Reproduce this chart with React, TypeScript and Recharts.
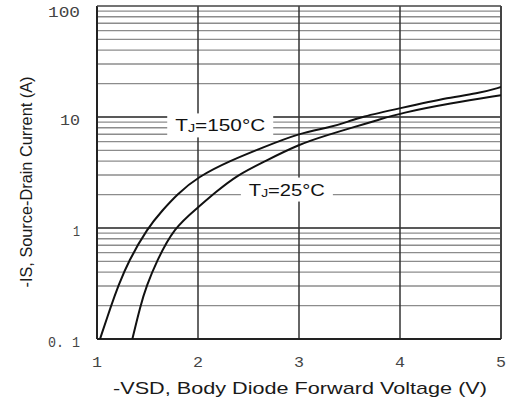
import React from 'react';
import { LineChart, Line, XAxis, YAxis, ReferenceLine, ReferenceDot } from 'recharts';

// -VSD (V) vs -IS (A)
const vsd150 = [1.03, 1.14, 1.21, 1.31, 1.5, 1.65, 1.79, 2.0, 2.32, 2.64, 3.0, 3.31, 3.5, 3.6, 4.0, 4.5, 4.79, 5.0];
const is150 = [0.1, 0.2, 0.3, 0.5, 1.0, 1.45, 2.0, 2.9, 4.05, 5.3, 7.15, 8.07, 9.15, 9.94, 12, 15.1, 16.4, 18.6];
const vsd25 = [1.35, 1.43, 1.49, 1.59, 1.76, 2.0, 2.17, 2.39, 2.64, 3.0, 3.31, 3.5, 3.8, 4.0, 4.5, 5.0];
const is25 = [0.1, 0.2, 0.3, 0.5, 1.0, 1.53, 2.09, 3.0, 3.9, 5.7, 7.0, 7.9, 9.5, 10.8, 13.3, 15.7];

const xTicks = [1, 2, 3, 4, 5];
const yTicks = [0.1, 1, 10, 100];
const yTickLabels = ['0. 1', '1', '10', '100'];
const minorY = [0.2, 0.3, 0.4, 0.5, 0.6, 0.7, 0.8, 0.9, 2, 3, 4, 5, 6, 7, 8, 9, 20, 30, 40, 50, 60, 70, 80, 90];
const majorY = [1, 10];
const majorX = [2, 3, 4];

const data150 = vsd150.map((v, i) => ({ v, is: is150[i] }));
const data25 = vsd25.map((v, i) => ({ v, is: is25[i] }));

const tickFont = '"Liberation Mono", monospace';
const labelFont = '"Liberation Sans", Arial, sans-serif';

const yLabelWidth: Record<string, number> = { '0. 1': 32, '1': 7, '10': 20, '100': 32 };

const YTick = (props: any) => {
  const { y, payload } = props;
  const label = yTickLabels[yTicks.indexOf(payload.value)] ?? String(payload.value);
  return (
    <text x={80} y={y + 8} textAnchor="end" fontFamily={tickFont} fontSize={14} fill="#444"
      textLength={yLabelWidth[label]} lengthAdjust="spacingAndGlyphs">
      {label}
    </text>
  );
};

const XTick = (props: any) => {
  const { x, payload } = props;
  return (
    <text x={x} y={367} textAnchor="middle" fontFamily={tickFont} fontSize={14} fill="#444"
      textLength={10} lengthAdjust="spacingAndGlyphs">
      {payload.value}
    </text>
  );
};

const CurveLabel = ({ cx, cy, temp, w }: any) => (
  <g>
    <rect x={cx - w / 2 - 8} y={cy - 12} width={w + 16} height={24} fill="#fff" />
    <text x={cx - w / 2} y={cy + 6} fontFamily={labelFont} fontSize={16} fill="#111"
      textLength={w} lengthAdjust="spacingAndGlyphs">
      <tspan>T</tspan>
      <tspan fontSize={11} dy={1}>J</tspan>
      <tspan dy={-1}>={temp}°C</tspan>
    </text>
  </g>
);

export default function App() {
  return (
    <div style={{ position: 'absolute', left: 0, top: 0, width: 511, height: 405, background: '#fff' }}>
      <LineChart width={511} height={405} margin={{ top: 6, right: 10, bottom: 0, left: 0 }}>
        <XAxis dataKey="v" type="number" domain={[1, 5]} ticks={xTicks} axisLine={false} tickLine={false}
          tick={<XTick />} height={66} allowDataOverflow />
        <YAxis type="number" scale="log" domain={[0.1, 100]} ticks={yTicks} axisLine={false} tickLine={false}
          tick={<YTick />} width={97} allowDataOverflow />
        {minorY.map((v) => (
          <ReferenceLine key={'m' + v} y={v} stroke="#8c8c8c" strokeWidth={1.4} />
        ))}
        {majorY.map((v) => (
          <ReferenceLine key={'M' + v} y={v} stroke="#222" strokeWidth={1.3} />
        ))}
        {majorX.map((v) => (
          <ReferenceLine key={'x' + v} x={v} stroke="#333" strokeWidth={1.5} />
        ))}
        <ReferenceLine x={1} stroke="#222" strokeWidth={2} />
        <ReferenceLine x={5} stroke="#444" strokeWidth={2} />
        <ReferenceLine y={0.1} stroke="#222" strokeWidth={2} />
        <ReferenceLine y={100} stroke="#444" strokeWidth={1.5} />
        <ReferenceDot x={2.22} y={8.4} r={0} shape={(p: any) => <CurveLabel {...p} temp="150" w={90} />} />
        <ReferenceDot x={2.88} y={2.22} r={0} shape={(p: any) => <CurveLabel {...p} temp="25" w={76} />} />
        <Line data={data150} dataKey="is" type="basis" stroke="#111" strokeWidth={2} dot={false} isAnimationActive={false} />
        <Line data={data25} dataKey="is" type="basis" stroke="#111" strokeWidth={2} dot={false} isAnimationActive={false} />
        <text x={300} y={394} textAnchor="middle" fontFamily={labelFont} fontSize={17} fill="#1a1a1a"
          textLength={374} lengthAdjust="spacingAndGlyphs">
          -VSD, Body Diode Forward Voltage (V)
        </text>
        <text x={32} y={182} transform="rotate(-90 32 182)" textAnchor="middle" fontFamily={labelFont} fontSize={16}
          fill="#1a1a1a" textLength={211} lengthAdjust="spacingAndGlyphs">
          -IS, Source-Drain Current (A)
        </text>
      </LineChart>
    </div>
  );
}
